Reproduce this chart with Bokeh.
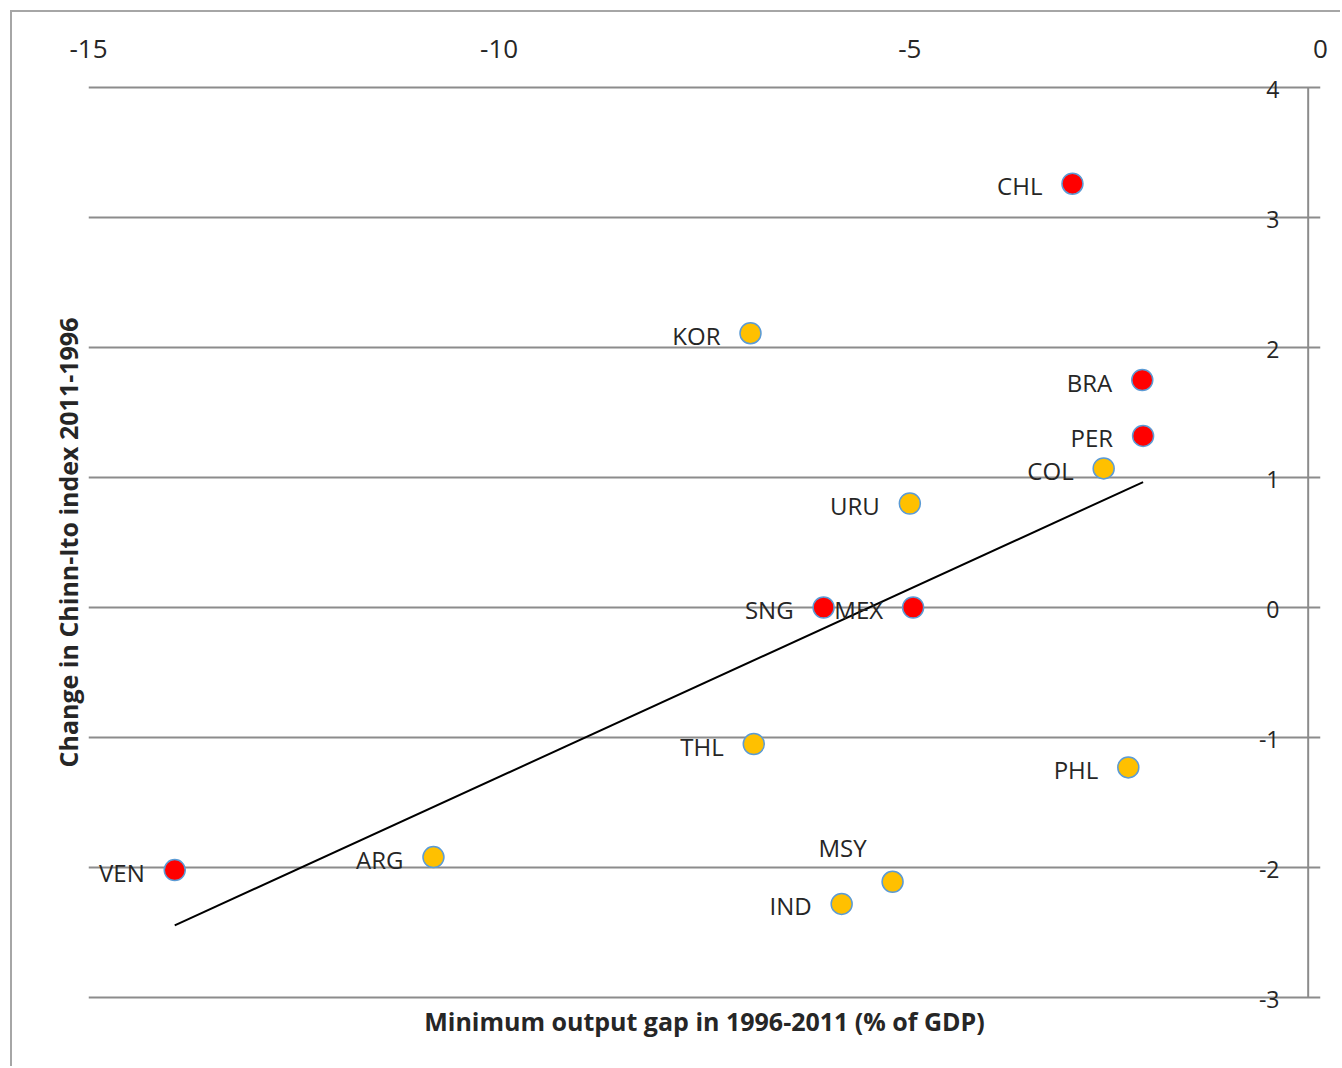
import numpy as np
from bokeh.plotting import figure
from bokeh.models import ColumnDataSource, LinearAxis, FixedTicker
from bokeh.core.properties import value
from bokeh.embed import file_html
from bokeh.resources import INLINE

# Country codes, minimum output gap (% of GDP) and change in the Chinn-Ito index
countries = ["CHL", "KOR", "BRA", "PER", "COL", "URU", "SNG",
             "MEX", "THL", "PHL", "VEN", "ARG", "MSY", "IND"]
output_gap = [-3.02, -6.94, -2.17, -2.16, -2.64, -5.00, -6.05,
              -4.96, -6.90, -2.34, -13.95, -10.80, -5.21, -5.83]
chinn_ito_change = [3.26, 2.11, 1.75, 1.32, 1.07, 0.80, 0.00,
                    0.00, -1.05, -1.23, -2.02, -1.92, -2.11, -2.28]
highlighted = [True, False, True, True, False, False, True,
               True, False, False, True, False, False, False]

x_ticks = [-15, -10, -5, 0]
x_tick_labels = ["-15", "-10", "-5", "0"]
y_ticks = [4, 3, 2, 1, 0, -1, -2, -3]
y_tick_labels = ["4", "3", "2", "1", "0", "-1", "-2", "-3"]

FONT = "Open Sans"
TEXT = "#262626"
GRID = "#8c8c8c"
BORDER = "#a6a6a6"

# chart-area geometry (pixels); the chart area sits 12px in from the page edge
INSET = 12
W, H = 1342 - INSET, 1068 - INSET
FRAME_L, FRAME_R, FRAME_T, FRAME_B = 76, 1308, 62, 998

# label placement: left of the marker, except where it would collide
label_dx = [-30] * len(countries)
label_dy = [2] * len(countries)
i_msy = countries.index("MSY")
label_dx[i_msy] = -26
label_dy[i_msy] = -34

src = ColumnDataSource(dict(
    x=output_gap,
    y=chinn_ito_change,
    name=countries,
    color=["#ff0000" if h else "#ffc000" for h in highlighted],
    dx=label_dx,
    dy=label_dy,
))

p = figure(width=W, height=H, x_range=(-15, 0), y_range=(-3.1, 4.1),
           output_backend="svg", toolbar_location=None,
           x_axis_location="above",
           min_border_left=FRAME_L, min_border_right=W - FRAME_R,
           min_border_top=FRAME_T, min_border_bottom=H - FRAME_B)
p.outline_line_color = None
p.background_fill_color = "white"
p.border_fill_color = "white"

# chart-area border on the left and top edges
p.margin = (INSET - 2, 0, 0, INSET - 2)
p.styles = {"border-left": f"2px solid {BORDER}", "border-top": f"2px solid {BORDER}"}

# top axis with the output-gap ticks
top = p.xaxis[0]
top.ticker = FixedTicker(ticks=x_ticks)
top.major_label_overrides = dict(zip(x_ticks, x_tick_labels))
top.axis_line_color = None
top.major_tick_line_color = None
top.minor_tick_line_color = None
top.major_label_text_font = FONT
top.major_label_text_font_size = "26px"
top.major_label_text_color = TEXT
top.major_label_standoff = 11

# bottom axis carrying only the x title
bottom = LinearAxis(ticker=FixedTicker(ticks=[]),
                    axis_label="Minimum output gap in 1996-2011 (% of GDP)")
bottom.axis_line_color = None
bottom.major_tick_line_color = None
bottom.minor_tick_line_color = None
bottom.major_label_text_font_size = "0px"
bottom.major_label_standoff = 0
bottom.axis_label_standoff = -7
bottom.axis_label_text_font = FONT
bottom.axis_label_text_font_style = "bold"
bottom.axis_label_text_font_size = "25px"
bottom.axis_label_text_color = TEXT
p.add_layout(bottom, "below")

# left axis carrying only the y title
left = p.yaxis[0]
left.ticker = FixedTicker(ticks=[])
left.axis_label = "Change in Chinn-Ito index 2011-1996"
left.axis_line_color = None
left.major_tick_line_color = None
left.minor_tick_line_color = None
left.major_label_text_font_size = "0px"
left.major_label_standoff = 0
left.axis_label_standoff = 4
left.axis_label_text_font = FONT
left.axis_label_text_font_style = "bold"
left.axis_label_text_font_size = "25px"
left.axis_label_text_color = TEXT

# horizontal gridlines only
p.xgrid.visible = False
p.ygrid.ticker = FixedTicker(ticks=y_ticks)
p.ygrid.grid_line_color = GRID
p.ygrid.grid_line_width = 2

# value axis line, crossing just left of zero
axis_x = -0.15
p.segment(x0=[axis_x], y0=[min(y_ticks)], x1=[axis_x], y1=[max(y_ticks)],
          line_color=GRID, line_width=2)

# value-axis tick labels sit inside the plot, right-aligned against the axis
p.text(x=[x_ticks[-1]] * len(y_ticks), y=y_ticks, text=y_tick_labels,
       text_align="right", text_baseline="middle", x_offset=-41, y_offset=2,
       text_font=value(FONT), text_font_size="23px", text_color=TEXT)

# linear trend fitted to all countries
slope, intercept = np.polyfit(output_gap, chinn_ito_change, 1)
tx = np.array([min(output_gap), max(output_gap)])
p.line(tx, slope * tx + intercept, line_color="black", line_width=2)

p.scatter("x", "y", source=src, size=21, fill_color="color",
          line_color="#5b9bd5", line_width=1.5)

p.text("x", "y", text="name", source=src, x_offset="dx", y_offset="dy",
       text_align="right", text_baseline="middle",
       text_font=value(FONT), text_font_size="24px", text_color=TEXT)

open("out.html", "w").write(file_html(p, INLINE))
